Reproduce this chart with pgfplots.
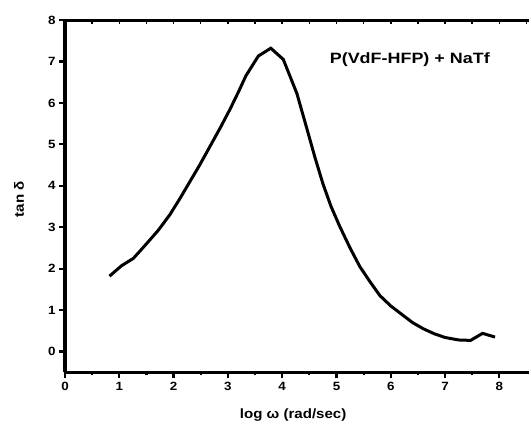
\documentclass[border=0pt]{standalone}
\usepackage{fontspec}
\setmainfont[FakeStretch=1.12]{Liberation Sans}
\newfontfamily\titlefont[FakeStretch=1.2]{Liberation Sans}
\usepackage{pgfplots}
\pgfplotsset{compat=1.18}

\begin{document}
\begin{tikzpicture}
\pgfplotsset{
  common/.style={
    scale only axis,
    width=464.25bp, height=352.3bp,
    xmin=0, xmax=8.55, ymin=-0.5, ymax=8,
    axis line style={line width=3bp},
    /pgf/number format/assume math mode=true,
  }
}
\begin{axis}[common, name=ax,
  axis x line*=bottom, axis y line*=left,
  xtick pos=bottom, ytick pos=left,
  xtick={0,...,8}, ytick={0,...,8},
  minor x tick num=1,
  tick align=outside,
  major tick length=6bp, minor tick length=3bp,
  tick style={line width=2.2bp, black},
  ticklabel style={font=\fontsize{12}{14}\selectfont\bfseries},
  xlabel={log ω (rad/sec)},
  ylabel={tan δ},
  xlabel style={at={(axis description cs:0.5,0)}, anchor=north,
    inner sep=0pt, yshift=-36bp, xshift=-4bp,
    font=\fontsize{13.5}{15}\selectfont\bfseries},
  ylabel style={at={(axis description cs:0,0.5)}, anchor=center,
    inner sep=0pt, yshift=46bp, xshift=-3bp,
    font=\fontsize{13.5}{15}\selectfont\bfseries},
]
\addplot[black, line width=3bp] coordinates {
  (0.82,1.82) (1.04,2.07) (1.26,2.25) (1.50,2.60) (1.72,2.93)
  (1.93,3.30) (2.12,3.70) (2.30,4.10) (2.48,4.50) (2.67,4.95)
  (2.86,5.40) (3.04,5.85) (3.20,6.28) (3.33,6.65) (3.56,7.13)
  (3.79,7.32) (4.02,7.05) (4.27,6.23) (4.45,5.40) (4.60,4.70)
  (4.75,4.05) (4.90,3.50) (5.06,3.02) (5.25,2.50) (5.43,2.05)
  (5.62,1.68) (5.80,1.35) (6.00,1.10) (6.17,0.93) (6.40,0.70)
  (6.60,0.55) (6.80,0.43) (7.00,0.34) (7.25,0.28) (7.47,0.27)
  (7.69,0.44) (7.92,0.35)
};
\node[font=\titlefont\fontsize{15}{15}\selectfont\bfseries]
  at (axis cs:6.35,7.04) {P(VdF-HFP) + NaTf};
\end{axis}
\begin{axis}[common,
  axis x line*=top, axis y line*=none,
  xtick pos=top, ytick=\empty,
  xtick={0,0.5,...,8.5}, xticklabels={},
  tick align=inside, major tick length=4bp,
  tick style={line width=1.5bp, black},
]
\end{axis}
\path (ax.south west) ++(-65bp,-51.7bp) rectangle ++(531bp,424bp);
\end{tikzpicture}
\end{document}
